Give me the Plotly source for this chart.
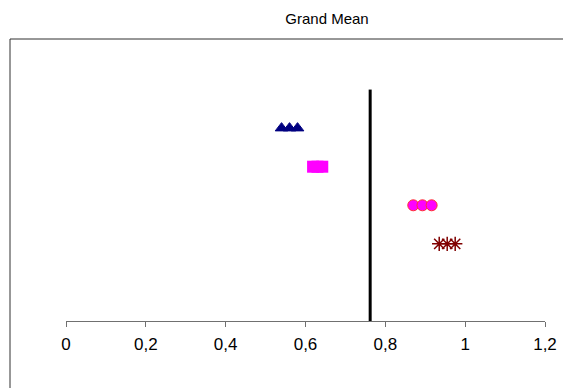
import plotly.graph_objects as go

# Data
grand_mean = 0.762
tri_x = [0.54, 0.56, 0.58]
tri_y = [5, 5, 5]
sq_x = [0.619, 0.630, 0.642]
sq_y = [4, 4, 4]
circ_x = [0.870, 0.893, 0.916]
circ_y = [3, 3, 3]
star_x = [0.935, 0.955, 0.975]
star_y = [2, 2, 2]
tick_vals = [0, 0.2, 0.4, 0.6, 0.8, 1.0, 1.2]
tick_text = ["0", "0,2", "0,4", "0,6", "0,8", "1", "1,2"]
line_y = [0, 6]

W, H = 563, 388
L, R, T, B = 66, 18, 51, 67
pw, ph = W - L - R, H - T - B

fig = go.Figure()
fig.add_trace(go.Scatter(x=[grand_mean, grand_mean], y=line_y, mode="lines",
                         line=dict(color="black", width=3), hoverinfo="skip"))
fig.add_trace(go.Scatter(x=tri_x, y=tri_y, mode="markers",
                         marker=dict(symbol="triangle-up", size=11, color="#000080",
                                     line=dict(color="#000080", width=1))))
fig.add_trace(go.Scatter(x=sq_x, y=sq_y, mode="markers",
                         marker=dict(symbol="square", size=12, color="#FF00FF",
                                     line=dict(width=0))))
fig.add_trace(go.Scatter(x=circ_x, y=circ_y, mode="markers",
                         marker=dict(symbol="circle", size=11, color="#FF00FF",
                                     line=dict(color="#FF3030", width=1))))
fig.add_trace(go.Scatter(x=star_x, y=star_y, mode="markers",
                         marker=dict(symbol="asterisk-open", size=12, color="#800000",
                                     line=dict(color="#800000", width=1.5))))

# outer frame (partially outside window, as in the reference)
fig.add_shape(type="rect", xref="paper", yref="paper",
              x0=(10 - L) / pw, x1=(W + 20 - L) / pw,
              y0=(H - B - (H + 20)) / ph, y1=(H - B - 39) / ph,
              line=dict(color="#303030", width=1), fillcolor="rgba(0,0,0,0)", layer="below")

fig.update_layout(
    width=W, height=H,
    margin=dict(l=L, r=R, t=T, b=B, autoexpand=False),
    paper_bgcolor="white", plot_bgcolor="white",
    showlegend=False,
    font=dict(family="Liberation Sans, Arial, sans-serif", color="black"),
    title=dict(text="Grand Mean", x=327 / W, xref="container", xanchor="center",
               y=1 - 19 / H, yref="container", yanchor="middle",
               font=dict(size=15, color="black")),
    xaxis=dict(range=[0, 1.2], tickmode="array", tickvals=tick_vals, ticktext=tick_text,
               automargin=False, ticklabelstandoff=3,
               showgrid=False, zeroline=False, showline=True, linecolor="#707070", linewidth=1,
               ticks="outside", ticklen=5, tickcolor="#707070", tickfont=dict(size=17)),
    yaxis=dict(range=[0, 7], visible=False, showgrid=False, zeroline=False, automargin=False),
)

fig.write_html("out.html", config={"displayModeBar": False},
               post_script="document.body.style.margin='0';document.body.style.overflow='hidden';")
